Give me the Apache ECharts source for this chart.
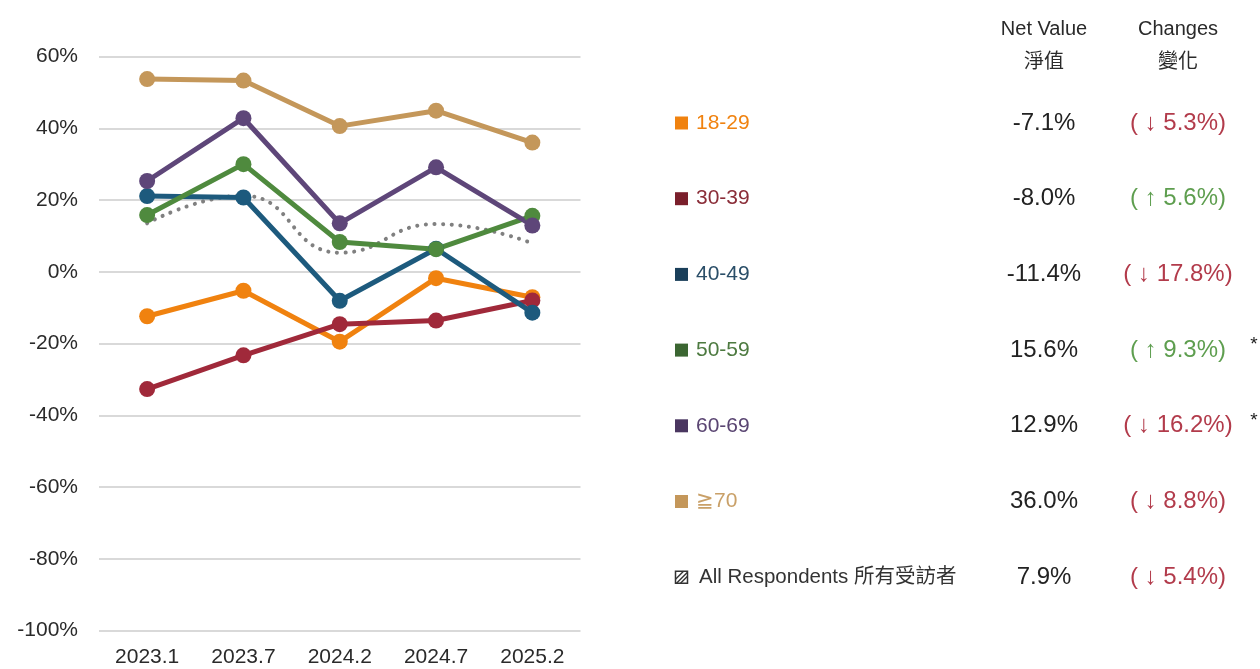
<!DOCTYPE html>
<html>
<head>
<meta charset="utf-8">
<script src="https://cdn.jsdelivr.net/npm/echarts@6/dist/echarts.min.js"></script>
<style>
  html, body { margin: 0; padding: 0; background: #fff; }
  #main { width: 1260px; height: 669px; }
</style>
</head>
<body>
<div id="main"></div>
<script>
// survey waves
var waves = ['2023.1', '2023.7', '2024.2', '2024.7', '2025.2']
var yTicks = [-100, -80, -60, -40, -20, 0, 20, 40, 60]

// net value by age group (%)
var age1829 = [-12.4, -5.3, -19.5, -1.8, -7.1]
var age3039 = [-32.7, -23.3, -14.6, -13.6, -8.0]
var age4049 = [21.1, 20.7, -8.1, 6.4, -11.4]
var age5059 = [15.8, 30.0, 8.3, 6.3, 15.6]
var age6069 = [25.3, 42.8, 13.5, 29.1, 12.9]
var age70 = [53.7, 53.3, 40.6, 44.9, 36.0]
var allResp = [13.5, 21.2, 5.3, 13.3, 7.9]

// table on the right
var groupNames = ['18-29', '30-39', '40-49', '50-59', '60-69', '≧70', 'All Respondents 所有受訪者']
var netValues = ['-7.1%', '-8.0%', '-11.4%', '15.6%', '12.9%', '36.0%', '7.9%']
var changeText = ['( ↓ 5.3%)', '( ↑ 5.6%)', '( ↓ 17.8%)', '( ↑ 9.3%)', '( ↓ 16.2%)', '( ↓ 8.8%)', '( ↓ 5.4%)']
var changeUp = [false, true, false, true, false, false, false]
var starred = [false, false, false, true, true, false, false]

var lineColors = ['#F0820F', '#A0293A', '#1D5A7D', '#4F8A3E', '#5E4679', '#C4975A']
var boxColors = ['#F0820F', '#7A1F2B', '#1A3F5A', '#3B6632', '#4A3660', '#C4975A']
var labelColors = ['#F0820F', '#8A2D38', '#2A4E68', '#4D7A40', '#5A4572', '#C9A068']
var font = '"Liberation Sans", Arial, sans-serif'

var chart = echarts.init(document.getElementById('main'))

function lineSeries(name, data, color) {
  return {
    name: name,
    type: 'line',
    data: data,
    symbol: 'circle',
    symbolSize: 16,
    lineStyle: { color: color, width: 5 },
    itemStyle: { color: color },
    animation: false
  }
}

var graphics = []
graphics.push({ type: 'text', x: 1044, y: 29, style: { text: 'Net Value', font: '20px ' + font, fill: '#2a2a2a', align: 'center', verticalAlign: 'middle' } })
graphics.push({ type: 'text', x: 1044, y: 60, style: { text: '淨值', font: '20px "Noto Sans CJK TC", sans-serif', fill: '#2a2a2a', align: 'center', verticalAlign: 'middle' } })
graphics.push({ type: 'text', x: 1178, y: 29, style: { text: 'Changes', font: '20px ' + font, fill: '#2a2a2a', align: 'center', verticalAlign: 'middle' } })
graphics.push({ type: 'text', x: 1178, y: 60, style: { text: '變化', font: '20px "Noto Sans CJK TC", sans-serif', fill: '#2a2a2a', align: 'center', verticalAlign: 'middle' } })

for (var i = 0; i < groupNames.length; i++) {
  var ry = 123 + i * 75.7
  var last = i === groupNames.length - 1
  if (!last) {
    graphics.push({ type: 'rect', shape: { x: 675, y: ry - 6.5, width: 13, height: 13 }, style: { fill: boxColors[i] } })
    graphics.push({ type: 'text', x: 696, y: ry, style: { text: groupNames[i], font: '21px ' + font, fill: labelColors[i], verticalAlign: 'middle' } })
  } else {
    graphics.push({ type: 'rect', shape: { x: 675.5, y: ry - 6, width: 12, height: 12 }, style: { fill: '#fff', stroke: '#333', lineWidth: 1.5 } })
    var hatch = [[675.5, ry + 2, 683.5, ry - 6], [676.5, ry + 6, 687.5, ry - 5], [680.5, ry + 6, 687.5, ry - 1]]
    for (var h = 0; h < hatch.length; h++) {
      graphics.push({ type: 'line', shape: { x1: hatch[h][0], y1: hatch[h][1], x2: hatch[h][2], y2: hatch[h][3] }, style: { stroke: '#333', lineWidth: 1.5 } })
    }
    graphics.push({ type: 'text', x: 699, y: ry, style: { text: groupNames[i], font: '20.5px ' + font + ', "Noto Sans CJK TC"', fill: '#333', verticalAlign: 'middle' } })
  }
  graphics.push({ type: 'text', x: 1044, y: ry, style: { text: netValues[i], font: '24px ' + font, fill: '#222', align: 'center', verticalAlign: 'middle' } })
  graphics.push({ type: 'text', x: 1178, y: ry, style: { text: changeText[i], font: '24px ' + font + ', "DejaVu Sans"', fill: changeUp[i] ? '#5E9E4F' : '#B23B4B', align: 'center', verticalAlign: 'middle' } })
  if (starred[i]) {
    graphics.push({ type: 'text', x: 1254, y: ry - 5, style: { text: '*', font: '19px ' + font, fill: '#222', align: 'center', verticalAlign: 'middle' } })
  }
}

chart.setOption({
  backgroundColor: '#fff',
  animation: false,
  grid: {
    left: 99,
    right: 679.5,
    top: 56.5,
    bottom: 38.5
  },
  xAxis: {
    type: 'category',
    data: waves,
    boundaryGap: true,
    axisLine: { show: false },
    axisTick: { show: false },
    axisLabel: { color: '#2a2a2a', fontSize: 21, fontFamily: font, margin: 16 }
  },
  yAxis: {
    type: 'value',
    min: yTicks[0],
    max: yTicks[yTicks.length - 1],
    interval: 20,
    axisLine: { show: false },
    axisTick: { show: false },
    axisLabel: {
      color: '#2a2a2a',
      fontSize: 21,
      fontFamily: font,
      margin: 21,
      formatter: function(v) { return v + '%' }
    },
    splitLine: { lineStyle: { color: '#D9D9D9', width: 2 } }
  },
  series: [
    {
      name: 'All Respondents',
      type: 'line',
      data: allResp,
      smooth: true,
      symbol: 'none',
      lineStyle: { color: '#808080', width: 4, type: [0.1, 8.5], cap: 'round' },
      animation: false
    },
    lineSeries('18-29', age1829, lineColors[0]),
    lineSeries('30-39', age3039, lineColors[1]),
    lineSeries('40-49', age4049, lineColors[2]),
    lineSeries('50-59', age5059, lineColors[3]),
    lineSeries('60-69', age6069, lineColors[4]),
    lineSeries('≧70', age70, lineColors[5])
  ],
  graphic: graphics
})
</script>
</body>
</html>
